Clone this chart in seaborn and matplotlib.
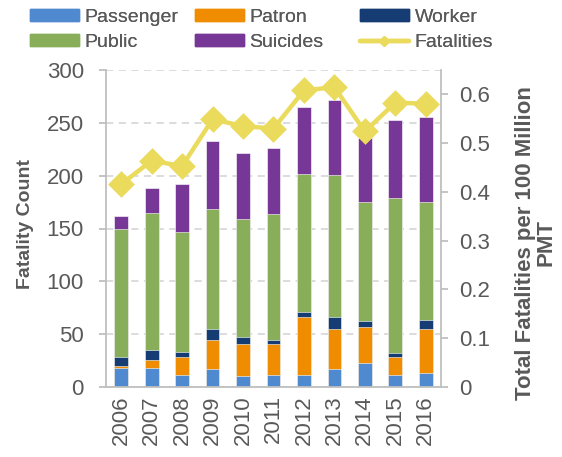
import numpy as np
import pandas as pd
import seaborn as sns
import matplotlib.pyplot as plt
from matplotlib.patches import Patch
from matplotlib.lines import Line2D

sns.set_style("white")
plt.rcParams['font.family'] = ['Liberation Sans', 'DejaVu Sans']

years = ['2006', '2007', '2008', '2009', '2010', '2011',
         '2012', '2013', '2014', '2015', '2016']
passenger = [18, 18, 11, 17, 10, 11, 11, 17, 23, 11, 13]
patron = [2, 8, 17, 27, 31, 30, 55, 38, 34, 17, 42]
worker = [8, 9, 5, 11, 6, 3, 5, 11, 5, 4, 8]
public = [122, 130, 114, 113, 112, 120, 131, 135, 113, 147, 112]
suicides = [12, 23, 45, 65, 62, 62, 63, 71, 61, 74, 81]
fatalities = [0.416, 0.464, 0.453, 0.549, 0.535, 0.530,
              0.608, 0.615, 0.524, 0.583, 0.581]

names = ['Passenger', 'Patron', 'Worker', 'Public', 'Suicides']
colors = ['#4F89CF', '#EF8C00', '#153D73', '#88AE5A', '#763797']
line_color = '#EADB5C'
text_color = '#595959'
spine_color = '#BFBFBF'

df = pd.DataFrame({'Year': years, 'Passenger': passenger, 'Patron': patron,
                   'Worker': worker, 'Public': public, 'Suicides': suicides})
cum = df[names].cumsum(axis=1)

fig = plt.figure(figsize=(5.62, 4.57), dpi=100)
ax = fig.add_axes([0.1886, 0.1532, 0.596, 0.6936])

# stacked bars: draw running totals from the top layer down
for name, col in reversed(list(zip(names, colors))):
    sns.barplot(x=df['Year'], y=cum[name], color=col, saturation=1,
                width=0.45, ax=ax, edgecolor='white', linewidth=0.4)

ax.set_ylim(0, 300)
ax.set_yticks(range(0, 301, 50))
ax.yaxis.grid(True, color='#D9D9D9', linestyle=(0, (4, 3)), linewidth=1.3)
ax.set_axisbelow(True)

ax2 = ax.twinx()
sns.pointplot(x=years, y=fatalities, ax=ax2, color=line_color,
              markers='D', errorbar=None, linewidth=3.2, markersize=11)
ax2.set_ylim(0, 0.65)
ax2.set_yticks(np.arange(0, 0.61, 0.1))
ax2.set_yticklabels(['0', '0.1', '0.2', '0.3', '0.4', '0.5', '0.6'])
ax.set_xlim(-0.5, 10.5)

for a in (ax, ax2):
    a.spines['top'].set_visible(False)
    for s in ('left', 'right', 'bottom'):
        a.spines[s].set_color(spine_color)
        a.spines[s].set_linewidth(1.3)
ax.spines['right'].set_visible(False)
ax2.spines['left'].set_visible(False)
ax2.spines['bottom'].set_visible(False)

ax.set_xticks(range(len(years)))
ax.set_xticklabels(years, rotation=90)
ax.set_xticks(np.arange(-0.5, 11, 1), minor=True)
ax.tick_params(axis='x', which='major', length=0, labelsize=16,
               labelcolor=text_color, pad=6)
ax.tick_params(axis='x', which='minor', length=5, color=spine_color, width=1.3)
ax.tick_params(axis='y', length=5, color=spine_color, width=1.3,
               labelsize=16, labelcolor=text_color, pad=11)
ax2.tick_params(axis='y', length=5, color=spine_color, width=1.3,
                labelsize=16, labelcolor=text_color, pad=8)

ax.set_xlabel('')
ax.set_ylabel('Fatality Count', fontsize=14, fontweight='bold',
              color=text_color)
ax.yaxis.set_label_coords(-0.215, 0.515)
ax2.set_ylabel('Total Fatalities per 100 Million\nPMT', fontsize=16,
               fontweight='bold', color=text_color, linespacing=0.95)
ax2.yaxis.set_label_coords(1.222, 0.455)

handles = [Patch(color=c) for c in colors]
handles.append(Line2D([], [], color=line_color, lw=3.2, marker='D',
                      markersize=5))
labels = names + ['Fatalities']
# one legend per column so the columns sit where the reference has them
for col, x_px in enumerate([30, 195, 360]):
    leg = fig.legend([handles[col], handles[col + 3]],
                     [labels[col], labels[col + 3]],
                     loc='upper left', bbox_to_anchor=(x_px / 562, 1 - 9 / 457),
                     frameon=False, fontsize=14, labelcolor=text_color,
                     handlelength=2.5, handleheight=0.55, handletextpad=0.3,
                     labelspacing=0.42, borderpad=0, borderaxespad=0)
    fig.add_artist(leg)

plt.savefig('out.png', dpi=100)
